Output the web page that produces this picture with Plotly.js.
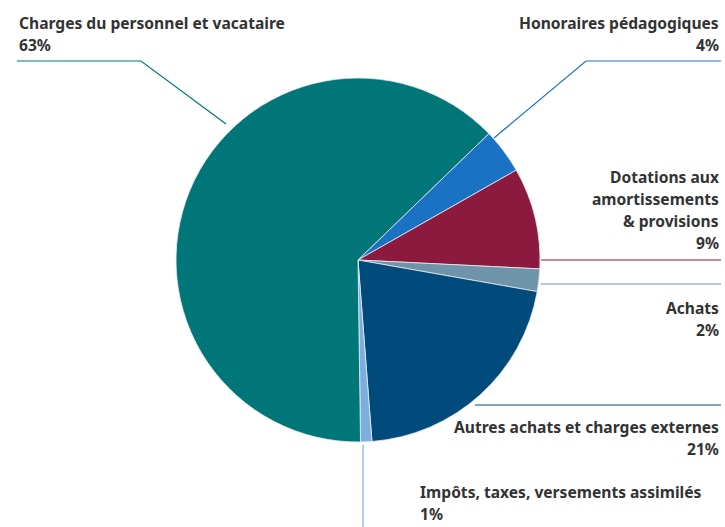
<!DOCTYPE html>
<html><head><meta charset="utf-8">
<script src="https://cdn.plot.ly/plotly-3.0.1.min.js"></script>
<style>body{margin:0;background:#fff}#c{width:725px;height:527px}</style>
</head><body><div id="c"></div>
<script>
const labels = ["Honoraires pédagogiques","Dotations aux amortissements & provisions","Achats","Autres achats et charges externes","Impôts, taxes, versements assimilés","Charges du personnel et vacataire"];
const values = [4, 9, 2, 21, 1, 63];
const colors = ["#1a72c4","#8c1a3f","#6f93a8","#004a7c","#7eaee0","#007678"];
const labelLines = [
  ["Honoraires pédagogiques"],
  ["Dotations aux","amortissements","& provisions"],
  ["Achats"],
  ["Autres achats et charges externes"],
  ["Impôts, taxes, versements assimilés"],
  ["Charges du personnel et vacataire"]
];
const W = 725, H = 527;
const px = x => x / W, py = y => 1 - y / H;
const place = [
  {x:721, y:23, a:"right"},
  {x:721, y:177, a:"right"},
  {x:721, y:308, a:"right"},
  {x:721, y:427, a:"right"},
  {x:418, y:492, a:"left"},
  {x:17, y:23, a:"left"}
];
const leaders = [
  [[494,138],[586,61],[721,61]],
  [[541,260],[721,260]],
  [[541,284],[721,284]],
  [[475,405],[721,405]],
  [[363,445],[363,527]],
  [[226,124],[141,61],[17,61]]
];
const lineH = 22;
const annotations = [];
labels.forEach((l, i) => {
  const lines = labelLines[i].concat([values[i] + "%"]);
  lines.forEach((t, j) => {
    annotations.push({
      text: t, xref: "paper", yref: "paper", showarrow: false,
      x: px(place[i].x), y: py(place[i].y + j * lineH),
      xanchor: place[i].a, yanchor: "middle", align: place[i].a,
      font: {family: "Noto Sans", size: 15.6, color: "#333333", weight: 700}
    });
  });
});
const shapes = leaders.map((pts, i) => ({
  type: "path", xref: "paper", yref: "paper",
  path: pts.map((p, k) => (k ? "L" : "M") + px(p[0]) + "," + py(p[1])).join(" "),
  line: {color: colors[i], width: 1.2}
}));
const cx = 358, cy = 260, r = 182;
Plotly.newPlot("c", [{
  type: "pie", labels: labels, values: values, sort: false,
  direction: "clockwise", rotation: 46, textinfo: "none", hoverinfo: "label+percent",
  marker: {colors: colors, line: {color: "#e8eef3", width: 0.8}},
  domain: {x: [px(cx - r), px(cx + r)], y: [py(cy + r), py(cy - r)]},
  showlegend: false
}], {
  width: W, height: H, margin: {l:0, r:0, t:0, b:0},
  paper_bgcolor: "#ffffff", showlegend: false,
  annotations: annotations, shapes: shapes
}, {displayModeBar: false, staticPlot: true});
</script></body></html>
